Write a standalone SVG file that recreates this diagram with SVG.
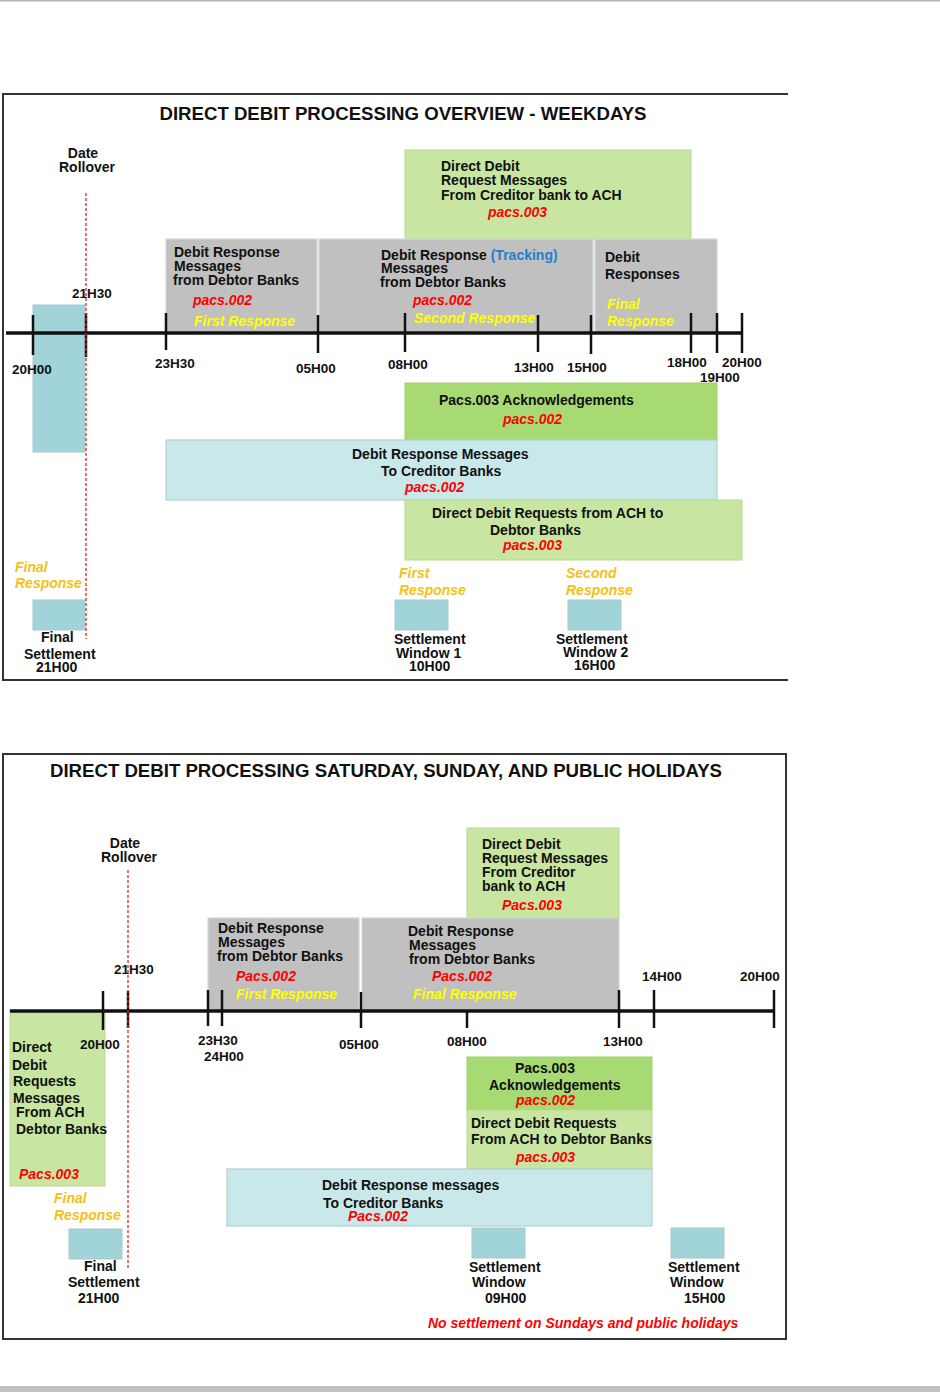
<svg xmlns="http://www.w3.org/2000/svg" width="940" height="1392" viewBox="0 0 940 1392">
<style>
text{font-family:"Liberation Sans",Arial,sans-serif;font-weight:bold;font-size:14px;fill:#111}
.tl{font-size:13.5px}
.ttl{font-size:18px}
.red{fill:#ff0000;font-style:italic}
.yel{fill:#ffff00;font-style:italic}
.org{fill:#f5c016;font-style:italic}
.blue{fill:#2080d0}
.gray{fill:#c0c0c0;stroke:#d6d6d6;stroke-width:1.2}
.lg{fill:#c8e6a2;stroke:#b8d894;stroke-width:1}
.bg{fill:#a8da74;stroke:#a0d070;stroke-width:1}
.lt{fill:#c9e8ea;stroke:#b4cfd2;stroke-width:1.2}
.tq{fill:#a0d4d8;stroke:#a8c8cc;stroke-width:1}
.axis{stroke:#111;stroke-width:3.5;fill:none}
.tick{stroke:#111;stroke-width:2.5;fill:none}
.dash{stroke:#ee2020;stroke-width:1.3;stroke-dasharray:3 2;fill:none}
.frame{stroke:#333;stroke-width:2;fill:none}
</style>
<rect x="0" y="0" width="940" height="1392" fill="#ffffff"/>
<rect x="0" y="0" width="940" height="1.5" fill="#b4b4b4"/>
<rect x="0" y="1386" width="940" height="6" fill="#c0c0c0"/>

<!-- ================= TOP DIAGRAM ================= -->
<g id="frame-top">
<path class="frame" d="M788,94 H3 V680 H788"/>
<text class="ttl" x="403" y="120" text-anchor="middle" textLength="487" lengthAdjust="spacingAndGlyphs">DIRECT DEBIT PROCESSING  OVERVIEW - WEEKDAYS</text>
</g>

<g id="top-settle-bar"><rect class="tq" x="33" y="305" width="52" height="147"/></g>

<g id="top-dd-request">
<rect class="lg" x="405" y="150" width="286" height="89"/>
<text x="441" y="171">Direct Debit</text>
<text x="441" y="185">Request Messages</text>
<text x="441" y="200">From Creditor bank to ACH</text>
<text class="red" x="488" y="217">pacs.003</text>
</g>

<g id="top-resp-first">
<rect class="gray" x="166" y="239" width="151" height="94"/>
<text x="174" y="257">Debit Response</text>
<text x="174" y="271">Messages</text>
<text x="173" y="285">from Debtor Banks</text>
<text class="red" x="193" y="305">pacs.002</text>
<text class="yel" x="194" y="326">First Response</text>
</g>

<g id="top-resp-tracking">
<rect class="gray" x="319" y="239" width="274" height="94"/>
<text x="381" y="260">Debit Response <tspan class="blue">(Tracking)</tspan></text>
<text x="381" y="273">Messages</text>
<text x="380" y="287">from Debtor Banks</text>
<text class="red" x="413" y="305">pacs.002</text>
<text class="yel" x="414" y="323">Second Response</text>
</g>

<g id="top-resp-final">
<rect class="gray" x="595" y="239" width="122" height="94"/>
<text x="605" y="262">Debit</text>
<text x="605" y="279">Responses</text>
<text class="yel" x="607" y="309">Final</text>
<text class="yel" x="607" y="326">Response</text>
</g>

<g id="top-ack">
<rect class="bg" x="405" y="383" width="312" height="57"/>
<text x="439" y="405">Pacs.003 Acknowledgements</text>
<text class="red" x="503" y="424">pacs.002</text>
</g>

<g id="top-resp-creditor">
<rect class="lt" x="166" y="440" width="551" height="60"/>
<text x="352" y="459">Debit Response Messages</text>
<text x="381" y="476">To Creditor Banks</text>
<text class="red" x="405" y="492">pacs.002</text>
</g>

<g id="top-dd-debtor">
<rect class="lg" x="405" y="500" width="337" height="60"/>
<text x="432" y="518">Direct Debit Requests from ACH to</text>
<text x="490" y="535">Debtor Banks</text>
<text class="red" x="503" y="550">pacs.003</text>
</g>

<g id="top-final-settlement">
<text class="org" x="15" y="572">Final</text>
<text class="org" x="15" y="588">Response</text>
<rect class="tq" x="33" y="600" width="52" height="30"/>
<text x="41" y="642">Final</text>
<text x="24" y="659">Settlement</text>
<text x="36" y="672">21H00</text>
</g>

<g id="top-window1">
<text class="org" x="399" y="578">First</text>
<text class="org" x="399" y="595">Response</text>
<rect class="tq" x="395" y="600" width="53" height="30"/>
<text x="394" y="644">Settlement</text>
<text x="396" y="658">Window 1</text>
<text x="409" y="671">10H00</text>
</g>

<g id="top-window2">
<text class="org" x="566" y="578">Second</text>
<text class="org" x="566" y="595">Response</text>
<rect class="tq" x="568" y="600" width="53" height="30"/>
<text x="556" y="644">Settlement</text>
<text x="563" y="657">Window 2</text>
<text x="574" y="670">16H00</text>
</g>

<g id="top-timeline">
<line class="axis" x1="6" y1="333" x2="743" y2="333"/>
<line class="tick" x1="33" y1="315" x2="33" y2="355"/>
<line class="tick" x1="86" y1="313" x2="86" y2="357"/>
<line class="tick" x1="166" y1="313" x2="166" y2="350"/>
<line class="tick" x1="318" y1="315" x2="318" y2="353"/>
<line class="tick" x1="405" y1="313" x2="405" y2="352"/>
<line class="tick" x1="538" y1="315" x2="538" y2="352"/>
<line class="tick" x1="591" y1="315" x2="591" y2="354"/>
<line class="tick" x1="691" y1="313" x2="691" y2="353"/>
<line class="tick" x1="717" y1="313" x2="717" y2="353"/>
<line class="tick" x1="742" y1="313" x2="742" y2="353"/>
<text class="tl" x="72" y="298">21H30</text>
<text class="tl" x="12" y="374">20H00</text>
<text class="tl" x="155" y="368">23H30</text>
<text class="tl" x="296" y="373">05H00</text>
<text class="tl" x="388" y="369">08H00</text>
<text class="tl" x="514" y="372">13H00</text>
<text class="tl" x="567" y="372">15H00</text>
<text class="tl" x="667" y="367">18H00</text>
<text class="tl" x="722" y="367">20H00</text>
<text class="tl" x="700" y="382">19H00</text>
</g>

<g id="top-rollover">
<line class="dash" x1="86" y1="193" x2="86" y2="639"/>
<text x="83" y="158" text-anchor="middle">Date</text>
<text x="87" y="172" text-anchor="middle">Rollover</text>
</g>

<!-- ================= BOTTOM DIAGRAM ================= -->
<g id="frame-bottom">
<rect class="frame" x="3" y="754" width="783" height="585"/>
<text class="ttl" x="386" y="777" text-anchor="middle" textLength="672" lengthAdjust="spacingAndGlyphs">DIRECT DEBIT PROCESSING  SATURDAY, SUNDAY,  AND PUBLIC  HOLIDAYS</text>
</g>

<g id="bot-dd-request">
<rect class="lg" x="467" y="828" width="152" height="90"/>
<text x="482" y="849">Direct Debit</text>
<text x="482" y="863">Request Messages</text>
<text x="482" y="877">From Creditor</text>
<text x="482" y="891">bank to ACH</text>
<text class="red" x="502" y="910">Pacs.003</text>
</g>

<g id="bot-resp-first">
<rect class="gray" x="208" y="918" width="151" height="93"/>
<text x="218" y="933">Debit Response</text>
<text x="218" y="947">Messages</text>
<text x="217" y="961">from Debtor Banks</text>
<text class="red" x="236" y="981">Pacs.002</text>
<text class="yel" x="236" y="999">First Response</text>
</g>

<g id="bot-resp-final">
<rect class="gray" x="362" y="918" width="257" height="93"/>
<text x="408" y="936">Debit Response</text>
<text x="409" y="950">Messages</text>
<text x="409" y="964">from Debtor Banks</text>
<text class="red" x="432" y="981">Pacs.002</text>
<text class="yel" x="413" y="999">Final Response</text>
</g>

<g id="bot-dd-debtor-left">
<rect class="lg" x="10" y="1011" width="95" height="175"/>
<text x="12" y="1052">Direct</text>
<text x="12" y="1070">Debit</text>
<text x="13" y="1086">Requests</text>
<text x="13" y="1103">Messages</text>
<text x="16" y="1117">From ACH</text>
<text x="16" y="1134">Debtor Banks</text>
<text class="red" x="19" y="1179">Pacs.003</text>
</g>

<g id="bot-ack">
<rect class="bg" x="467" y="1057" width="185" height="53"/>
<text x="515" y="1073">Pacs.003</text>
<text x="489" y="1090">Acknowledgements</text>
<text class="red" x="516" y="1105">pacs.002</text>
</g>

<g id="bot-dd-debtor">
<rect class="lg" x="467" y="1110" width="185" height="59"/>
<text x="471" y="1128">Direct Debit Requests</text>
<text x="471" y="1144">From ACH to Debtor Banks</text>
<text class="red" x="516" y="1162">pacs.003</text>
</g>

<g id="bot-resp-creditor">
<rect class="lt" x="227" y="1169" width="425" height="57"/>
<text x="322" y="1190">Debit Response messages</text>
<text x="323" y="1208">To Creditor Banks</text>
<text class="red" x="348" y="1221">Pacs.002</text>
</g>

<g id="bot-final-settlement">
<text class="org" x="54" y="1203">Final</text>
<text class="org" x="54" y="1220">Response</text>
<rect class="tq" x="69" y="1229" width="53" height="30"/>
<text x="84" y="1271">Final</text>
<text x="68" y="1287">Settlement</text>
<text x="78" y="1303">21H00</text>
</g>

<g id="bot-window-09">
<rect class="tq" x="472" y="1228" width="53" height="30"/>
<text x="469" y="1272">Settlement</text>
<text x="472" y="1287">Window</text>
<text x="485" y="1303">09H00</text>
</g>

<g id="bot-window-15">
<rect class="tq" x="671" y="1228" width="53" height="30"/>
<text x="668" y="1272">Settlement</text>
<text x="670" y="1287">Window</text>
<text x="684" y="1303">15H00</text>
</g>

<g id="bot-note">
<text class="red" x="428" y="1328">No settlement on Sundays and public holidays</text>
</g>

<g id="bot-timeline">
<line class="axis" x1="10" y1="1011" x2="775" y2="1011"/>
<line class="tick" x1="103" y1="991" x2="103" y2="1030"/>
<line class="tick" x1="128" y1="991" x2="128" y2="1028"/>
<line class="tick" x1="208" y1="990" x2="208" y2="1026"/>
<line class="tick" x1="222" y1="990" x2="222" y2="1026"/>
<line class="tick" x1="361" y1="992" x2="361" y2="1028"/>
<line class="tick" x1="467" y1="1011" x2="467" y2="1028"/>
<line class="tick" x1="619" y1="990" x2="619" y2="1028"/>
<line class="tick" x1="654" y1="990" x2="654" y2="1028"/>
<line class="tick" x1="774" y1="990" x2="774" y2="1028"/>
<text class="tl" x="114" y="974">21H30</text>
<text class="tl" x="80" y="1049">20H00</text>
<text class="tl" x="198" y="1045">23H30</text>
<text class="tl" x="204" y="1061">24H00</text>
<text class="tl" x="339" y="1049">05H00</text>
<text class="tl" x="447" y="1046">08H00</text>
<text class="tl" x="603" y="1046">13H00</text>
<text class="tl" x="642" y="981">14H00</text>
<text class="tl" x="740" y="981">20H00</text>
</g>

<g id="bot-rollover">
<line class="dash" x1="128" y1="870" x2="128" y2="1268"/>
<text x="125" y="848" text-anchor="middle">Date</text>
<text x="129" y="862" text-anchor="middle">Rollover</text>
</g>
</svg>
